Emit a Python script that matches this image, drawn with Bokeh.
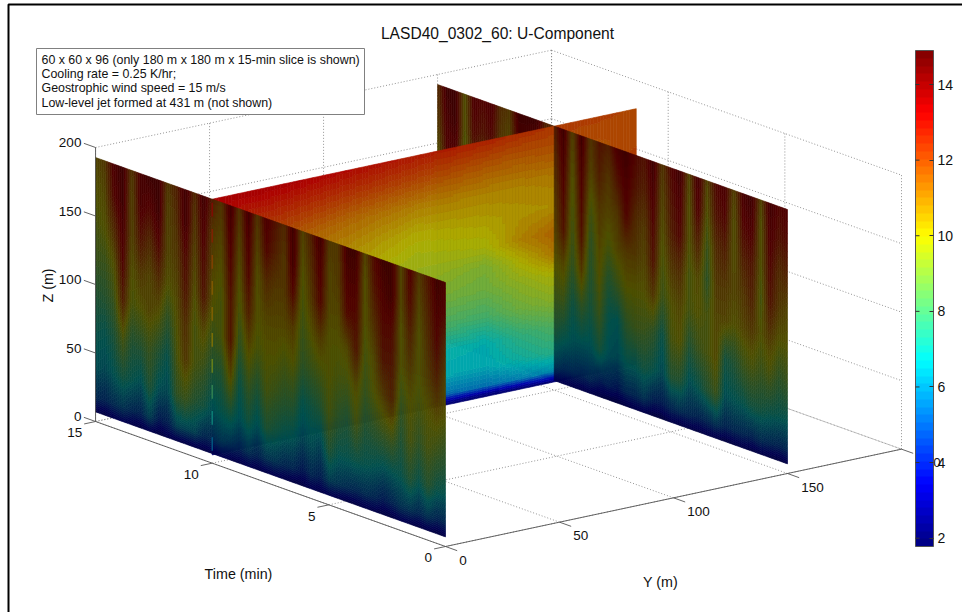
import numpy as np
from bokeh.core.properties import value
from bokeh.embed import file_html
from bokeh.models import ColorBar, FixedTicker, LinearColorMapper, Range1d
from bokeh.plotting import figure
from bokeh.resources import INLINE

TITLE = "LASD40_0302_60: U-Component"
NOTES = ["60 x 60 x 96 (only 180 m x 180 m x 15-min slice is shown)",
         "Cooling rate = 0.25 K/hr;",
         "Geostrophic wind speed = 15 m/s",
         "Low-level jet formed at 431 m (not shown)"]
time_ticks = [0, 5, 10, 15]
y_ticks = [0, 50, 100, 150]
z_ticks = [0, 50, 100, 150, 200]
bar_ticks = [2, 4, 6, 8, 10, 12, 14]
bar_low, bar_high = 1.78, 14.9

# heights of the rows in the two time-height panels
wall_z = [192.7, 170, 145, 120, 95, 68, 40, 18, 7]

# U (m/s) at y = 0, one list per time column from t = 15 to t = 0, top to bottom
front_u = [
 [10.5,10,9.5,9,8,7.2,6.5,5,3],[11,10.5,10,9,8.2,7,6.2,4.8,2.8],
 [13.5,13,11.5,10,9,7.8,6.8,5.2,3.2],[14,14,13.5,13,12,9.5,7.5,5.5,3.4],
 [11,10.5,10.5,10,9.5,8,7,5,3],[13.5,13.5,12.5,11,10,8.2,6.5,4.8,2.8],
 [14,13,11.5,10.5,10.5,9,8,6,3.2],[14,14,13,11.5,10,8,6.5,4.4,2.7],
 [11,10.5,10.5,10,8.5,7,6.2,4.6,3],[12,11.5,11,10.5,10,9.5,8.5,6,3],
 [14,14,13,12.5,11.5,11,9,6,3],[11.5,11,10.5,10,9.5,9.5,8,6,3],
 [14,13.5,13,12.5,10.5,9,7.5,5,2.8],[12,11,10.5,10,9,7.8,6.5,5,3],
 [11,10.5,10,9.5,9.5,8,7,5.5,3.4],[14,13.5,13,12.5,12.5,10.5,7.5,5.2,3],
 [11,10.5,10,9.5,8.5,7.2,6.5,4.8,3],[14,13.5,13,12,10.5,9,7.5,5.4,3.2],
 [11,10.5,10,10,9.5,8,6.5,4.8,3],[13.5,13,11.5,10.5,10,9.5,8,5.5,3],
 [12.5,12,11,10.5,10,9,7.5,5.5,3.2],[11.5,11,11,10.5,9.5,8.5,7,5,3],
 [14,14,13,11,10,8.5,6.8,5,2.8],[10.5,10,9.5,9,8.5,7,6,4.2,2.8],
 [12,11.5,11,10,9,7.5,6.5,5,3.2],[14,13.5,13,11,9.5,8,6,4.5,3],
 [11,10.5,10.5,10,10,9.5,8,5.8,3.2],[11,11,10.5,10,9.5,8.5,7,5.5,3],
 [14,13.5,13,10.5,9.5,8,7,5.2,2.8],[14,13.5,13,12.5,10.5,9.5,7.2,5,2.8],
 [10.5,10,10,9.5,9,8,7,5.2,3],[13,12.5,11.5,10.5,10,8.5,6.8,5,3],
 [14,13.5,13,12.5,11,9,6.5,4.4,2.7],[14,14,13,12.5,12,9.5,6.8,4.8,2.8],
 [10.5,10.5,10,10,9,8,7,5.4,3.2],[13.5,13,12,11,10,9.5,8,5.5,3],
 [11,10.5,10,10,9.5,8.5,7,5,2.8],[12.5,12,11.5,11,10,9.5,8.2,5.5,3],
 [14,13.5,13,12,10.5,9,7.2,4.8,2.7],[13.5,13,11.5,10.5,10,8.5,7,5,3],
]

# U (m/s) at y = 150, same layout
rear_u = [
 [11.5,11,10,9.5,9,8,7,5,3],[14,13.5,13,11.5,10,8.5,6.8,5,3],
 [14,14,13,11,10,9,7,5.2,3],[10,10,9.5,9,9,8,6.5,5,3],
 [13.5,13,12,10.5,10,8.5,7,5,3],[13,12.5,11,10,9.5,8,6.5,4.6,2.8],
 [13.5,13,12,11,10,9,7,5.2,3],[11.5,11,10.5,10,9,7.5,6.5,5,3],
 [11,10.5,10,9.5,9,8,7,5,3],[14,13.5,12.5,11,10,8.5,6.8,4.6,2.8],
 [14,13.5,13,11,10,9,7,5,3],[14,13,11.5,10.5,9.5,8,6.5,4.8,2.8],
 [12,11.5,11,10,9.5,8.5,7,5.2,3],[12,11.5,11,10.5,10,9,7.5,5.5,3.2],
 [14,13.5,13,12.5,10.5,9,7,5,3.2],[10.5,10,9.5,9,8.5,7.2,6.5,5,3],
 [14,13.5,13,12.5,11,8.5,6.5,4.8,3],[11,10.5,9.5,8.5,8,7.5,6.5,5,3],
 [12.5,12,11,10.5,10,9,7.5,4.4,2.7],[12,11,10.5,9.5,8,7,6.5,4.6,2.6],
 [13.5,12.5,11,10.5,9,6.8,6.2,4.2,2.6],[14,13.5,13,11,10,8.5,7,5,2.8],
 [13,12.5,11.5,11,10,9,7,5,3],[12.5,12,11,10.5,10,9,7.5,5.5,3],
 [14,13.5,13,12.5,11,8.5,7,4.5,2.6],[11,10.5,10,9.5,9,7,6.2,4.4,2.6],
 [13,12.5,12,11,10,9.5,8,5,3],[14,13.5,13,11.5,10.5,10,8,5.2,2.8],
 [10.5,10,10,9.5,9.5,8,6.5,5,3],[14,13.5,12,10.5,10,9,7,4.8,2.8],
 [10.5,10,9,8.5,9.5,9.5,8,5,3],[13,12.5,11.5,11,10.5,10.5,9,5.5,3],
 [13.5,13,12,11,10.5,7.5,6.5,4.8,2.7],[10.5,10,10,10.5,10,8,6.8,5,2.8],
 [13.5,13,12,11,10.5,9,7,5,3],[14,13.5,12.5,12,11,9.5,7.5,4.8,2.8],
 [10.5,10,10,9.5,10,9,7.5,5.2,3],[14,13.5,13,12.5,11,9.5,7.2,5,2.8],
 [13,12.5,11.5,11,10,8.5,7,4.8,2.7],[13.5,13,12,10.5,10,9,7,5,3],
]

# U (m/s) on the y-z slice at t = 10
slice_t = 10
slice_y = [0, 30, 60, 90, 120, 135, 150, 186]
slice_z = [192.7, 175, 155, 135, 115, 100, 85, 65, 45, 28, 14, 9, 6]
slice_u = [
 [13.5,13.4,13.1,12.8,12.6,12.4,12.2,12.0],
 [12.8,12.6,12.3,12.0,11.7,11.6,11.7,11.9],
 [12.0,11.8,11.3,10.9,10.8,10.8,10.9,12.2],
 [11.3,11.1,10.7,10.1,10.3,10.5,10.6,11.8],
 [11.0,10.7,10.2,9.6,9.8,10.8,11.4,11.8],
 [10.8,10.4,10.0,9.5,9.0,10.0,11.0,11.0],
 [10.3,10.0,9.5,9.0,8.8,9.4,9.9,10.0],
 [9.0,8.8,8.5,8.2,8.0,8.8,9.2,9.4],
 [7.5,7.2,7.0,6.9,6.7,7.6,8.1,8.2],
 [6.8,6.8,6.7,6.6,6.5,7.0,7.5,7.5],
 [5.8,5.8,5.6,5.4,5.5,5.8,6.0,6.0],
 [3.5,3.2,3.0,2.8,3.0,3.2,3.5,3.5],
 [2.0,2.0,2.0,2.0,2.0,2.0,2.0,2.0],
]

FONT = value("Liberation Sans")
W, H = 962, 612
WALL_SHADE = 0.31
SLICE_SHADE = 0.68


def proj(t, y, z):
    """Fixed oblique view of the (time, y, z) box, as page pixels."""
    return (445 - 23.33 * t + 2.28 * y,
            546 - 8.333 * t - 0.4867 * y - 1.37 * z)


def jet_rgb(i, n=64):
    x = (i + 0.5) / n
    r = np.clip(min(4 * x - 1.5, -4 * x + 4.5), 0, 1)
    g = np.clip(min(4 * x - 0.5, -4 * x + 3.5), 0, 1)
    b = np.clip(min(4 * x + 0.5, -4 * x + 2.5), 0, 1)
    return r, g, b


def shaded(i, shade):
    r, g, b = jet_rgb(i)
    return "#%02x%02x%02x" % (int(r * 255 * shade), int(g * 255 * shade), int(b * 255 * shade))


def level(v):
    return np.clip(((np.asarray(v) - bar_low) / (bar_high - bar_low) * 64).astype(int), 0, 63)


def draw_panel(p, values, u_pos, z_pos, u_span, to_xy, shade, sub_u, sub_z):
    """Shade a table of values by smooth interpolation, one strip per colour band."""
    values = np.asarray(values, float)      # rows: z (descending), columns: u
    z_rev = np.asarray(z_pos, float)[::-1]
    edges = np.linspace(u_span[0], u_span[1], sub_u + 1)
    z_fine = np.linspace(z_rev[0], z_rev[-1], sub_z + 1)
    z_mid = (z_fine[:-1] + z_fine[1:]) / 2
    xs, ys, colors = [], [], []
    for a, b in zip(edges[:-1], edges[1:]):
        mid = (a + b) / 2
        profile = [np.interp(mid, u_pos, row) for row in values[::-1]]
        lev = level(np.interp(z_mid, z_rev, profile))
        start = 0
        for k in range(1, len(lev) + 1):
            if k == len(lev) or lev[k] != lev[start]:
                z0, z1 = z_fine[start], z_fine[k]
                corners = [to_xy(a, z0), to_xy(b, z0), to_xy(b, z1), to_xy(a, z1)]
                xs.append([c[0] for c in corners])
                ys.append([c[1] for c in corners])
                colors.append(shaded(int(lev[start]), shade))
                start = k
    p.patches(xs, ys, fill_color=colors, line_color=colors, line_width=0.6)


p = figure(width=W, height=H, x_range=Range1d(0, W), y_range=Range1d(H, 0),
           output_backend="svg", toolbar_location=None, min_border=0,
           x_axis_location=None, y_axis_location=None,
           styles={"position": "absolute", "left": "0px", "top": "0px"})
p.grid.visible = False
p.outline_line_color = None
p.background_fill_color = "white"

# page frame
p.line([W, 8, 8], [4, 4, H], line_color="black", line_width=2)

# dotted grid on floor and back walls
grid = []
box_y = y_ticks + [200]
box_z = z_ticks
for t in time_ticks:
    grid.append((proj(t, 0, 0), proj(t, 200, 0)))
    grid.append((proj(t, 200, 0), proj(t, 200, 200)))
for y in box_y:
    grid.append((proj(0, y, 0), proj(15, y, 0)))
    grid.append((proj(15, y, 0), proj(15, y, 200)))
for z in box_z:
    grid.append((proj(15, 0, z), proj(15, 200, z)))
    grid.append((proj(15, 200, z), proj(0, 200, z)))
p.segment([g[0][0] for g in grid], [g[0][1] for g in grid],
          [g[1][0] for g in grid], [g[1][1] for g in grid],
          line_color="#888888", line_width=0.9, line_dash="1 2")

# panels, back to front
wall_t = list(np.linspace(0, 15, len(front_u)))
front_tab = np.array(front_u, float).T[:, ::-1]
rear_tab = np.array(rear_u, float).T[:, ::-1]
rear_xy = lambda t, z: proj(t, 150, z)
front_xy = lambda t, z: proj(t, 0, z)
slice_xy = lambda y, z: proj(slice_t, y, z)
draw_panel(p, rear_tab, wall_t, wall_z, (10, 15), rear_xy, WALL_SHADE, 58, 90)
draw_panel(p, slice_u, slice_y, slice_z, (0, 186), slice_xy, SLICE_SHADE, 130, 127)
draw_panel(p, rear_tab, wall_t, wall_z, (0, 10), rear_xy, WALL_SHADE, 117, 127)
draw_panel(p, front_tab, wall_t, wall_z, (0, 15), front_xy, WALL_SHADE, 175, 127)

# where the y-z slice pokes through the front wall: broken line in the slice's colours
zs_top = np.arange(190, 8, -19.0)
col0 = np.array(slice_u, float)[::-1, 0]
dash_x0, dash_y0, dash_x1, dash_y1, dash_c = [], [], [], [], []
for zt in zs_top:
    a = proj(slice_t, 0, zt)
    b = proj(slice_t, 0, zt - 10)
    dash_x0.append(a[0]); dash_y0.append(a[1]); dash_x1.append(b[0]); dash_y1.append(b[1])
    dash_c.append(shaded(int(level(np.interp(zt - 5, np.array(slice_z)[::-1], col0))), 0.55))
p.segment(dash_x0, dash_y0, dash_x1, dash_y1, line_color=dash_c, line_width=1.2)

# axes
AX = "#555555"
for a, b in [(proj(15, 0, 0), proj(0, 0, 0)), (proj(0, 0, 0), proj(0, 200, 0)),
             (proj(15, 0, 0), proj(15, 0, 200))]:
    p.line([a[0], b[0]], [a[1], b[1]], line_color=AX, line_width=0.9)

def tick(a, b):
    p.line([a[0], b[0]], [a[1], b[1]], line_color=AX, line_width=0.9)

def label(x, y, s, align="center", size="13.5px", angle=0):
    p.text([x], [y], text=[s], text_font=FONT, text_font_size=size, text_color="#111111",
           text_align=align, text_baseline="middle", angle=angle)

for z in z_ticks:
    a, b = proj(15, 0, z), proj(15.5, 0, z)
    tick(a, b)
    label(b[0] - 2.5, b[1] - 0.5, str(z), "right")
for t in time_ticks:
    a, b = proj(t, 0, 0), proj(t, -5, 0)
    tick(a, b)
    label(b[0] - 2, b[1] + 9, str(t), "right")
for y in y_ticks + [200]:
    a, b = proj(0, y, 0), proj(-0.5, y, 0)
    tick(a, b)
    if y == 200:
        label(b[0] + 20, b[1] + 9, "0", "left")
    else:
        label(b[0] + 2, b[1] + 9.5, str(y), "left")

label(497, 33, TITLE, size="15.6px")
label(238, 573, "Time (min)", size="14.3px")
label(660, 581, "Y (m)", size="14.3px")
label(47, 285, "Z (m)", size="14.3px", angle=np.pi / 2)

# note box
p.quad(left=[36], right=[364], top=[48], bottom=[114], fill_color="white",
       line_color="#808080", line_width=1)
for k, s in enumerate(NOTES):
    label(41, 59 + 14.4 * k, s, "left", size="12.4px")

# colour bar
mapper = LinearColorMapper(palette=[shaded(i, 1.0) for i in range(64)], low=bar_low, high=bar_high)
bar = ColorBar(color_mapper=mapper, width=18, height=496, location=(915, H - 546),
               padding=0, margin=0, background_fill_alpha=0, border_line_color=None,
               ticker=FixedTicker(ticks=bar_ticks), major_tick_in=4, major_tick_out=0,
               major_tick_line_color="#333333", minor_tick_line_color=None,
               bar_line_color="#555555", label_standoff=4,
               major_label_text_font="Liberation Sans", major_label_text_font_size="14px",
               major_label_text_color="#111111")
p.add_layout(bar, "center")
yb = [546 - (v - bar_low) / (bar_high - bar_low) * 496 for v in bar_ticks]
p.segment([915] * len(yb), yb, [919] * len(yb), yb, line_color="#333333", level="overlay")

open("out.html", "w").write(file_html(p, INLINE))
